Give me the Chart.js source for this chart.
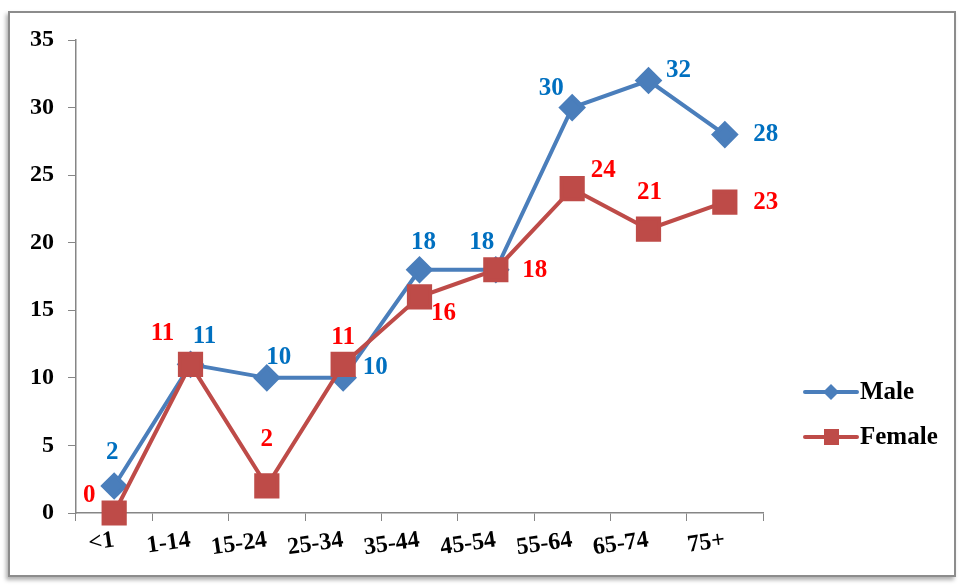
<!DOCTYPE html>
<html>
<head>
<meta charset="utf-8">
<script src="https://cdn.jsdelivr.net/npm/chart.js@4.4.1/dist/chart.umd.min.js"></script>
<style>
  html, body { margin: 0; padding: 0; background: #fff; }
  #frame {
    position: absolute; left: 8px; top: 11px; width: 944px; height: 562px;
    border: 2px solid #8c8c8c; box-shadow: -2px 3px 4px #b0b0b0;
  }
  #wrap { position: absolute; left: 0; top: 0; width: 959px; height: 585px; }
</style>
</head>
<body>
<div id="frame"></div>
<div id="wrap"><canvas id="ageChart" width="959" height="585"></canvas></div>
<script>
//Age groups and case counts
const ageGroups = ["<1", "1-14", "15-24", "25-34", "35-44", "45-54", "55-64", "65-74", "75+"];
const maleData = [2, 11, 10, 10, 18, 18, 30, 32, 28];
const femaleData = [0, 11, 2, 11, 16, 18, 24, 21, 23];
const yTicks = [0, 5, 10, 15, 20, 25, 30, 35];

//Where each value label sits relative to its point (pixels)
const maleLabelOffset = [[-2, -33], [14, -28], [12, -20], [32, -10], [4, -27], [-14, -27], [-21, -19], [30, -10], [41, 0]];
const femaleLabelOffset = [[-25, -17], [-28, -31], [0, -46], [0, -27], [24, 17], [39, 1], [31, -18], [1, -37], [41, 0]];

const serif = '"Liberation Serif", "Times New Roman", serif';

//Draws the value next to every point
const valueLabels = {
    id: 'valueLabels',
    afterDatasetsDraw(chart) {
        const ctx = chart.ctx;
        ctx.save();
        ctx.font = 'bold 25px ' + serif;
        ctx.textAlign = 'center';
        ctx.textBaseline = 'middle';
        chart.data.datasets.forEach(function(ds, d) {
            const meta = chart.getDatasetMeta(d);
            ctx.fillStyle = ds.labelColor;
            meta.data.forEach(function(pt, i) {
                const off = ds.labelOffset[i];
                ctx.fillText(ds.data[i], pt.x + off[0], pt.y + off[1]);
            });
        });
        ctx.restore();
    }
};

//Excel style legend: line with marker through it
const sideLegend = {
    id: 'sideLegend',
    afterDraw(chart) {
        const ctx = chart.ctx;
        ctx.save();
        chart.data.datasets.forEach(function(ds, d) {
            const y = 392 + d * 45;
            ctx.strokeStyle = ds.borderColor;
            ctx.lineWidth = 4;
            ctx.lineCap = 'round';
            ctx.beginPath();
            ctx.moveTo(805, y);
            ctx.lineTo(857, y);
            ctx.stroke();
            ctx.fillStyle = ds.backgroundColor;
            if (ds.pointStyle === 'rectRot') {
                ctx.beginPath();
                ctx.moveTo(831, y - 8);
                ctx.lineTo(839, y);
                ctx.lineTo(831, y + 8);
                ctx.lineTo(823, y);
                ctx.closePath();
                ctx.fill();
            } else {
                ctx.fillRect(824, y - 8, 15, 16);
            }
            ctx.fillStyle = '#000';
            ctx.font = 'bold 25px ' + serif;
            ctx.textAlign = 'left';
            ctx.textBaseline = 'middle';
            ctx.fillText(ds.label, 860, y + 1);
        });
        ctx.restore();
    }
};

const ageChart = new Chart(
    document.getElementById('ageChart'),
    {
        type: 'line',
        data: {
            labels: ageGroups,
            datasets: [{
                label: 'Male',
                data: maleData,
                order: 1,
                clip: false,
                borderColor: '#4a7ebb',
                backgroundColor: '#4a7ebb',
                borderWidth: 4,
                pointStyle: 'rectRot',
                pointRadius: 11,
                pointHoverRadius: 11,
                labelColor: '#0070c0',
                labelOffset: maleLabelOffset,
            }, {
                label: 'Female',
                data: femaleData,
                order: 0,
                clip: false,
                borderColor: '#be4b48',
                backgroundColor: '#be4b48',
                borderWidth: 4,
                pointStyle: 'rect',
                pointRadius: 15,
                pointHoverRadius: 15,
                labelColor: '#ff0000',
                labelOffset: femaleLabelOffset,
            }]
        },
        options: {
            responsive: false,
            animation: false,
            events: [],
            layout: {
                padding: { top: 40, right: 196, bottom: 0, left: 0 }
            },
            elements: {
                line: { tension: 0 },
            },
            scales: {
                x: {
                    offset: true,
                    grid: {
                        offset: true,
                        drawOnChartArea: false,
                        tickLength: 8,
                        color: '#868686',
                    },
                    border: { color: '#868686', width: 1.5 },
                    ticks: {
                        color: '#000',
                        font: { family: serif, size: 24, weight: 'bold' },
                        minRotation: 8,
                        maxRotation: 8,
                        padding: 5,
                    },
                    afterFit(scale) { scale.height = 72; },
                },
                y: {
                    min: 0,
                    max: 35,
                    afterBuildTicks(scale) {
                        scale.ticks = yTicks.map(function(v) { return { value: v }; });
                    },
                    grid: {
                        drawOnChartArea: false,
                        tickLength: 8,
                        color: '#868686',
                    },
                    border: { color: '#868686', width: 1.5 },
                    ticks: {
                        color: '#000',
                        font: { family: serif, size: 24, weight: 'bold' },
                        padding: 14,
                    },
                    afterFit(scale) { scale.width = 76; },
                },
            },
            plugins: {
                legend: { display: false },
                tooltip: { enabled: false },
            },
        },
        plugins: [valueLabels, sideLegend]
    }
);
</script>
</body>
</html>
